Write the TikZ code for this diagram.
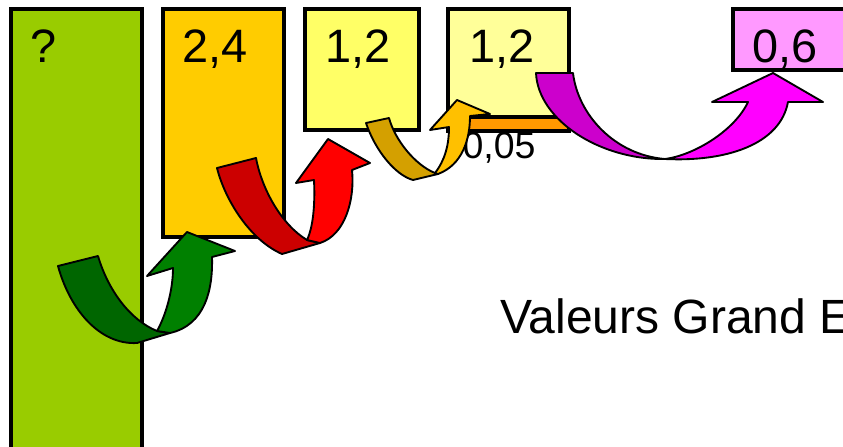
\documentclass[tikz,border=0pt]{standalone}
\usepackage{fontspec}
\setmainfont{Liberation Sans}
\usetikzlibrary{positioning}
\definecolor{barvert}{HTML}{99CC00}
\definecolor{barorange}{HTML}{FFCC00}
\definecolor{barjaune}{HTML}{FFFF66}
\definecolor{barpale}{HTML}{FFFF99}
\definecolor{barmince}{HTML}{FF9900}
\definecolor{barrose}{HTML}{FF99FF}
\definecolor{vertfonce}{HTML}{006600}
\definecolor{vertclair}{HTML}{008000}
\definecolor{rougefonce}{HTML}{CC0000}
\definecolor{rougeclair}{HTML}{FF0000}
\definecolor{orfonce}{HTML}{D4A000}
\definecolor{orclair}{HTML}{FFC000}
\definecolor{magfonce}{HTML}{CC00CC}
\definecolor{magclair}{HTML}{FF00FF}

\begin{document}
\begin{tikzpicture}[x=0.03cm, y=-0.03cm,
        bar/.style={draw, line width=3.2pt},
        ruban/.style={draw, line width=1.6pt, line join=round},
        valeur/.style={font=\fontsize{40}{48}\selectfont, anchor=base, inner sep=0pt}
    ]
        \useasboundingbox (0,0) rectangle (843,446);
        \clip (0,0) rectangle (843,446);

        % 1. The bars
        \draw[bar, fill=barvert] (11,9) rectangle (142,470);
        \draw[bar, fill=barorange] (163,9) rectangle (284,237);
        \draw[bar, fill=barjaune] (305,9) rectangle (419,130);
        \draw[bar, fill=barpale] (448,9) rectangle (569,117);
        \draw[bar, fill=barmince] (448,117) rectangle (569,131);
        \draw[bar, fill=barrose] (733,9) rectangle (870,70);

        % 2. The values
        \node[valeur] (vinconnu) at (44,62) {?};
        \node[valeur] (vorange) at (215,62) {2,4};
        \node[valeur] (vjaune) at (358,62) {1,2};
        \node[valeur] (vpale) at (502,62) {1,2};
        \node[valeur] (vrose) at (785,62) {0,6};
        \node[valeur, font=\fontsize{32}{38}\selectfont] (vmince) at (499,158) {0,05};
        \node[valeur, anchor=base west, font=\fontsize{41}{49}\selectfont] (titre) at (500,333) {Valeurs Grand E};

        % 3. The curved arrows (back part, then front part)
        \draw[ruban, fill=vertfonce] (58,266) -- (98,256) .. controls (108,290) and (130,320) .. (157,331) -- (170,333) -- (137,343) .. controls (100,345) and (70,310) .. (58,266) -- cycle;
        \draw[ruban, fill=vertclair] (157,331) .. controls (166,315) and (173,290) .. (173,268) -- (147,276) -- (187,232) -- (235,251) -- (212,257) .. controls (213,290) and (205,325) .. (170,333) -- cycle;

        \draw[ruban, fill=rougefonce] (217,168) -- (256,158) .. controls (262,190) and (282,225) .. (307,240) -- (320,243) -- (282,254) .. controls (250,240) and (225,200) .. (217,168) -- cycle;
        \draw[ruban, fill=rougeclair] (307,240) .. controls (314,225) and (315,200) .. (314,180) -- (296,183) -- (328,139) -- (370,163) -- (352,170) .. controls (355,200) and (345,235) .. (320,243) -- cycle;

        \draw[ruban, fill=orfonce] (366,123) -- (389,118) .. controls (395,140) and (415,165) .. (435,173) -- (438,174) -- (413,180) .. controls (395,175) and (375,150) .. (366,123) -- cycle;
        \draw[ruban, fill=orclair] (435,173) .. controls (445,160) and (449,145) .. (449,127) -- (430,130) -- (457,100) -- (490,114) -- (470,116) .. controls (470,140) and (462,165) .. (438,174) -- cycle;

        \draw[ruban, fill=magfonce] (536,73) -- (573,73) .. controls (578,115) and (615,155) .. (665,159) .. controls (600,160) and (538,120) .. (536,73) -- cycle;
        \draw[ruban, fill=magclair] (665,159) .. controls (695,155) and (735,130) .. (748,102) -- (712,102) -- (773,73) -- (823,102) -- (788,102) .. controls (780,145) and (725,162) .. (665,159) -- cycle;

    \end{tikzpicture}
\end{document}
